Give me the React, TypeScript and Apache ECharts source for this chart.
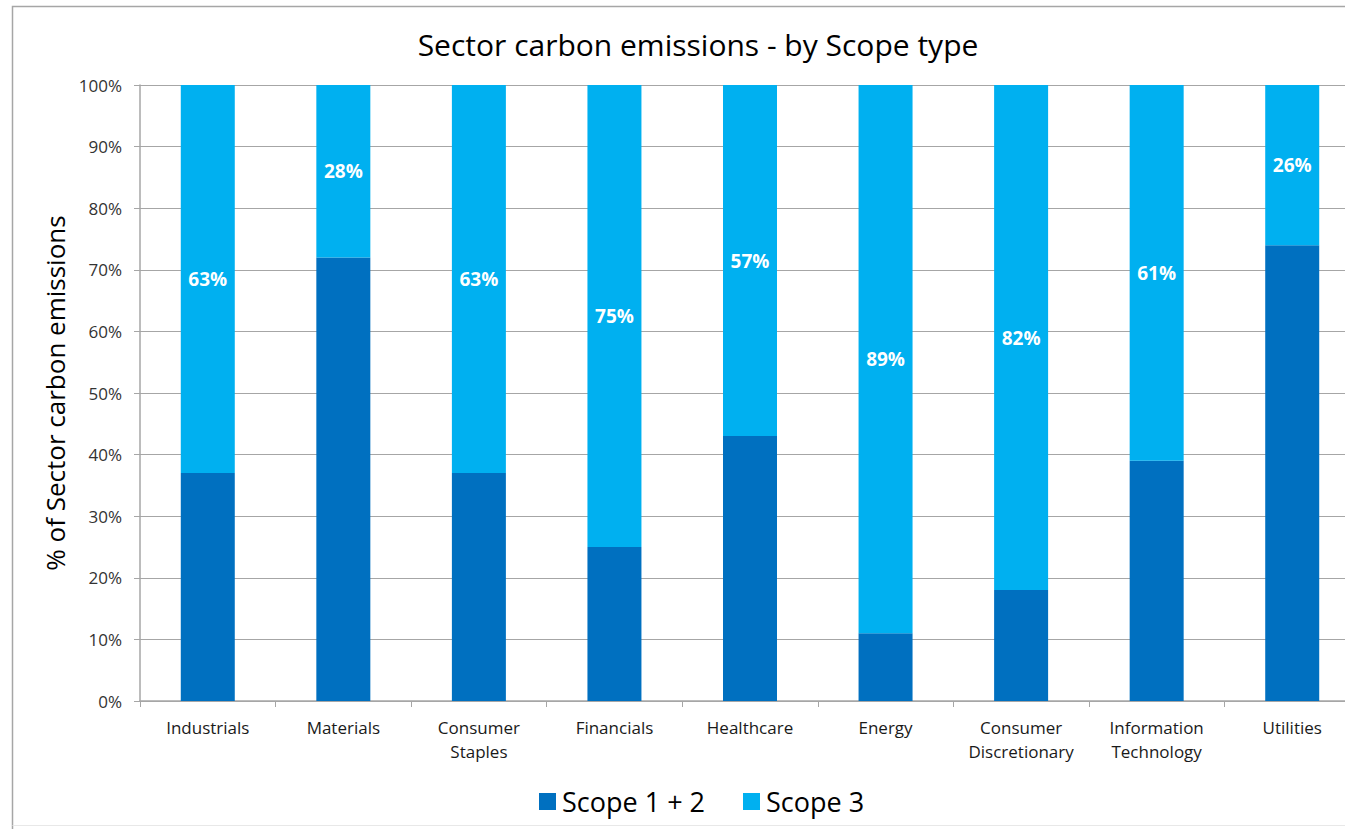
import React, { useEffect, useRef } from "react";
import * as echarts from "echarts";

const categories = [
  "Industrials",
  "Materials",
  "Consumer\nStaples",
  "Financials",
  "Healthcare",
  "Energy",
  "Consumer\nDiscretionary",
  "Information\nTechnology",
  "Utilities",
];
const scope12 = [37, 72, 37, 25, 43, 11, 18, 39, 74];
const scope3 = [63, 28, 63, 75, 57, 89, 82, 61, 26];
const titleText = "Sector carbon emissions - by Scope type";
const yAxisName = "% of Sector carbon emissions";

const FONT = "Open Sans";

export default function App() {
  const ref = useRef<HTMLDivElement>(null);
  useEffect(() => {
    if (!ref.current) return;
    const chart = echarts.init(ref.current, undefined, { renderer: "svg" });
    chart.setOption({
      animation: false,
      backgroundColor: "#ffffff",
      textStyle: { fontFamily: FONT },
      title: {
        text: titleText,
        left: 693,
        top: 24,
        textAlign: "center",
        textStyle: { fontFamily: FONT, fontSize: 30, fontWeight: "normal", color: "#000000" },
      },
      graphic: [
        {
          type: "polyline",
          shape: { points: [[12.5, 829], [12.5, 6.5], [1360, 6.5]] },
          style: { stroke: "#a6a6a6", lineWidth: 1.5, fill: "none" },
          silent: true,
        },
        {
          type: "line",
          shape: { x1: 12.5, y1: 825.5, x2: 1360, y2: 825.5 },
          style: { stroke: "#e8e8e8", lineWidth: 1 },
          silent: true,
        },
      ],
      legend: {
        left: 534,
        top: 783,
        itemWidth: 17,
        itemHeight: 17,
        itemGap: 38,
        icon: "rect",
        textStyle: { fontFamily: FONT, fontSize: 27, color: "#000000", padding: [0, 0, 0, 1] },
        data: ["Scope 1 + 2", "Scope 3"],
      },
      grid: { left: 140, right: 0, top: 85, bottom: 128, containLabel: false },
      xAxis: {
        type: "category",
        data: categories,
        axisLine: { show: true, lineStyle: { color: "#a6a6a6", width: 1.5 } },
        axisTick: { show: true, length: 6, lineStyle: { color: "#a6a6a6" } },
        axisLabel: {
          interval: 0,
          margin: 14,
          fontFamily: FONT,
          fontSize: 17,
          lineHeight: 24,
          color: "#1a1a1a",
        },
      },
      yAxis: {
        type: "value",
        min: 0,
        max: 100,
        interval: 10,
        name: yAxisName,
        nameLocation: "middle",
        nameGap: 70,
        nameTextStyle: { fontFamily: FONT, fontSize: 26, color: "#000000" },
        axisLine: { show: true, lineStyle: { color: "#a6a6a6", width: 1.5 } },
        axisTick: { show: true, length: 6, lineStyle: { color: "#a6a6a6" } },
        axisLabel: {
          formatter: "{value}%",
          margin: 18,
          fontFamily: FONT,
          fontSize: 17,
          color: "#333333",
        },
        splitLine: { show: true, lineStyle: { color: "#a6a6a6", width: 1 } },
      },
      series: [
        {
          name: "Scope 1 + 2",
          type: "bar",
          stack: "total",
          barWidth: 54,
          data: scope12,
          itemStyle: { color: "#0070C0" },
        },
        {
          name: "Scope 3",
          type: "bar",
          stack: "total",
          barWidth: 54,
          data: scope3,
          itemStyle: { color: "#00B0F0" },
          label: {
            show: true,
            position: "inside",
            formatter: "{c}%",
            color: "#ffffff",
            fontFamily: FONT,
            fontWeight: "bold",
            fontSize: 19,
          },
        },
      ],
    });
    return () => chart.dispose();
  }, []);
  return (
    <div
      ref={ref}
      style={{ position: "fixed", left: 0, top: 0, width: 1360, height: 829 }}
    />
  );
}
